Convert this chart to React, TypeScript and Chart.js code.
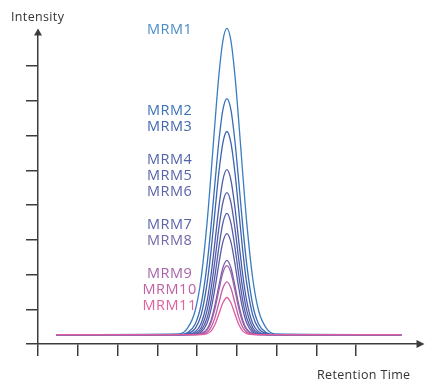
import React, { useEffect, useRef } from "react";
import { Chart, registerables } from "chart.js";

Chart.register(...registerables);

// Retention-time sample positions (x axis units: one tick = 1)
const retentionTimes = [
  0.46, 3.55, 3.75, 3.95, 4.1, 4.25, 4.35, 4.45, 4.55, 4.65, 4.75,
  4.85, 4.95, 5.05, 5.15, 5.25, 5.4, 5.55, 5.75, 5.95, 9.14,
];

const seriesNames = [
  "MRM1", "MRM2", "MRM3", "MRM4", "MRM5", "MRM6",
  "MRM7", "MRM8", "MRM9", "MRM10", "MRM11",
];

const mrm1 = [0.27, 0.29, 0.44, 0.95, 1.88, 3.48, 4.88, 6.38, 7.76, 8.74, 9.09, 8.74, 7.76, 6.38, 4.88, 3.48, 1.88, 0.95, 0.44, 0.29, 0.27];
const mrm2 = [0.27, 0.27, 0.32, 0.57, 1.13, 2.28, 3.38, 4.65, 5.86, 6.75, 7.07, 6.75, 5.86, 4.65, 3.38, 2.28, 1.13, 0.57, 0.32, 0.27, 0.27];
const mrm3 = [0.27, 0.27, 0.29, 0.44, 0.83, 1.73, 2.67, 3.82, 4.96, 5.8, 6.12, 5.8, 4.96, 3.82, 2.67, 1.73, 0.83, 0.44, 0.29, 0.27, 0.27];
const mrm4 = [0.27, 0.27, 0.28, 0.35, 0.59, 1.23, 1.98, 2.95, 3.95, 4.73, 5.02, 4.73, 3.95, 2.95, 1.98, 1.23, 0.59, 0.35, 0.28, 0.27, 0.27];
const mrm5 = [0.27, 0.27, 0.27, 0.31, 0.47, 0.96, 1.58, 2.42, 3.35, 4.08, 4.36, 4.08, 3.35, 2.42, 1.58, 0.96, 0.47, 0.31, 0.27, 0.27, 0.27];
const mrm6 = [0.27, 0.27, 0.27, 0.29, 0.39, 0.74, 1.24, 1.97, 2.8, 3.49, 3.76, 3.49, 2.8, 1.97, 1.24, 0.74, 0.39, 0.29, 0.27, 0.27, 0.27];
const mrm7 = [0.27, 0.27, 0.27, 0.28, 0.34, 0.6, 1.0, 1.6, 2.33, 2.94, 3.18, 2.94, 2.33, 1.6, 1.0, 0.6, 0.34, 0.28, 0.27, 0.27, 0.27];
const mrm8 = [0.27, 0.27, 0.27, 0.27, 0.3, 0.43, 0.68, 1.12, 1.69, 2.2, 2.41, 2.2, 1.69, 1.12, 0.68, 0.43, 0.3, 0.27, 0.27, 0.27, 0.27];
const mrm9 = [0.27, 0.27, 0.27, 0.27, 0.29, 0.4, 0.62, 1.02, 1.56, 2.06, 2.26, 2.06, 1.56, 1.02, 0.62, 0.4, 0.29, 0.27, 0.27, 0.27, 0.27];
const mrm10 = [0.27, 0.27, 0.27, 0.27, 0.28, 0.34, 0.48, 0.76, 1.19, 1.61, 1.79, 1.61, 1.19, 0.76, 0.48, 0.34, 0.28, 0.27, 0.27, 0.27, 0.27];
const mrm11 = [0.27, 0.27, 0.27, 0.27, 0.27, 0.3, 0.37, 0.56, 0.87, 1.19, 1.34, 1.19, 0.87, 0.56, 0.37, 0.3, 0.27, 0.27, 0.27, 0.27, 0.27];

const seriesValues = [mrm1, mrm2, mrm3, mrm4, mrm5, mrm6, mrm7, mrm8, mrm9, mrm10, mrm11];

const lineColors = [
  "#3a7dc0", "#3a6db6", "#3d62ae", "#4a5ca8", "#4f5ca8", "#555ca8",
  "#5a5ba8", "#7060a8", "#a060a8", "#c05ca4", "#e05c9e",
];
const labelColors = [
  "#4a8bc6", "#3b72b8", "#4166b0", "#5363ab", "#5563aa", "#5a63a9",
  "#5b62aa", "#7466a9", "#a763a9", "#c160a5", "#e0619f",
];

// label anchor positions (in axis units)
const labelTime = 3.31;
const labelIntensity = [9.04, 6.71, 6.26, 5.29, 4.85, 4.38, 3.44, 2.97, 2.01, 1.55, 1.1];

const xTickValues = [0, 1, 2, 3, 4, 5, 6, 7, 8];
const yTickValues = [0, 1, 2, 3, 4, 5, 6, 7, 8];

const xAxisTitle = "Retention Time";
const yAxisTitle = "Intensity";

const AXIS_COLOR = "#3c3c3c";
const FONT = "'Open Sans', 'DejaVu Sans', sans-serif";

const decorPlugin = {
  id: "decor",
  afterDraw(chart: any) {
    const ctx = chart.ctx;
    const area = chart.chartArea;
    const xs = chart.scales.x;
    const ys = chart.scales.y;
    ctx.save();
    ctx.fillStyle = AXIS_COLOR;
    // y arrow
    ctx.beginPath();
    ctx.moveTo(area.left, area.top - 6.5);
    ctx.lineTo(area.left - 4, area.top + 0.5);
    ctx.lineTo(area.left + 4, area.top + 0.5);
    ctx.closePath();
    ctx.fill();
    // x arrow
    ctx.beginPath();
    ctx.moveTo(area.right + 7.5, area.bottom);
    ctx.lineTo(area.right - 0.5, area.bottom - 4);
    ctx.lineTo(area.right - 0.5, area.bottom + 4);
    ctx.closePath();
    ctx.fill();

    // axis titles
    ctx.fillStyle = "#333333";
    ctx.font = `12.5px ${FONT}`;
    try { ctx.letterSpacing = "0.35px"; } catch (e) {}
    ctx.textBaseline = "alphabetic";
    ctx.textAlign = "left";
    ctx.fillText(yAxisTitle, 11, 21);
    ctx.fillText(xAxisTitle, 317, 379);

    // series labels
    ctx.font = `14.5px ${FONT}`;
    try { ctx.letterSpacing = "0.5px"; } catch (e) {}
    ctx.textAlign = "center";
    ctx.textBaseline = "middle";
    const px = xs.getPixelForValue(labelTime);
    seriesNames.forEach((name, i) => {
      ctx.fillStyle = labelColors[i];
      ctx.fillText(name, px, ys.getPixelForValue(labelIntensity[i]));
    });
    ctx.restore();
  },
};

export default function App() {
  const canvasRef = useRef<HTMLCanvasElement | null>(null);

  useEffect(() => {
    const canvas = canvasRef.current;
    if (!canvas) return;
    const datasets = seriesNames.map((name, i) => ({
      label: name,
      data: retentionTimes.map((t, j) => ({ x: t, y: seriesValues[i][j] })),
      borderColor: lineColors[i],
      backgroundColor: lineColors[i],
      borderWidth: 1.3,
      pointRadius: 0,
      pointHoverRadius: 0,
      fill: false,
      cubicInterpolationMode: "monotone" as const,
      clip: false as const,
      order: seriesNames.length - i,
    }));

    const chart = new Chart(canvas, {
      type: "line",
      data: { datasets },
      options: {
        animation: false,
        responsive: true,
        maintainAspectRatio: false,
        devicePixelRatio: 1,
        layout: { padding: { left: 26, right: 12, top: 35, bottom: 28 } },
        plugins: {
          legend: { display: false },
          tooltip: { enabled: false },
        },
        events: [],
        scales: {
          x: {
            type: "linear",
            min: 0,
            max: 9.53,
            afterBuildTicks: (scale: any) => {
              scale.ticks = xTickValues.map((v) => ({ value: v }));
            },
            ticks: { display: false },
            grid: {
              drawOnChartArea: false,
              drawTicks: true,
              tickLength: 12,
              color: AXIS_COLOR,
              lineWidth: 1.5,
            },
            border: { display: true, color: AXIS_COLOR, width: 1.5 },
          },
          y: {
            type: "linear",
            min: 0,
            max: 8.9,
            afterBuildTicks: (scale: any) => {
              scale.ticks = yTickValues.map((v) => ({ value: v }));
            },
            ticks: { display: false },
            grid: {
              drawOnChartArea: false,
              drawTicks: true,
              tickLength: 12,
              color: AXIS_COLOR,
              lineWidth: 1.5,
            },
            border: { display: true, color: AXIS_COLOR, width: 1.5 },
          },
        },
      },
      plugins: [decorPlugin],
    });
    return () => chart.destroy();
  }, []);

  return (
    <div style={{ position: "fixed", left: 0, top: 0, width: 429, height: 384, background: "#ffffff" }}>
      <canvas ref={canvasRef} />
    </div>
  );
}
